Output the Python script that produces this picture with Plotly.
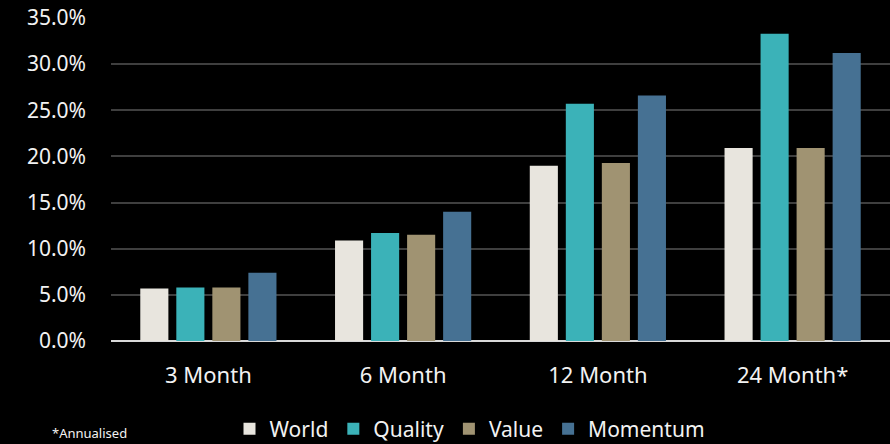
import plotly.graph_objects as go

categories = ["3 Month", "6 Month", "12 Month", "24 Month*"]
world = [5.7, 10.9, 19.0, 20.9]
quality = [5.8, 11.7, 25.7, 33.3]
value = [5.8, 11.5, 19.3, 20.9]
momentum = [7.4, 14.0, 26.6, 31.2]
series_names = ["World", "Quality", "Value", "Momentum"]
colors = ["#E8E5DE", "#3BB2B8", "#A09372", "#467193"]

W, H = 890, 444
L, R, T, B = 111, 0, 18, 103
fig = go.Figure()
for name, vals, c in zip(series_names, [world, quality, value, momentum], colors):
    fig.add_trace(go.Bar(x=categories, y=vals, name=name, marker=dict(color=c, line=dict(width=0))))

pw = W - L - R
ph = H - T - B
fig.update_layout(
    width=W, height=H,
    margin=dict(l=L, r=R, t=T, b=B, autoexpand=False),
    paper_bgcolor="black", plot_bgcolor="black",
    font=dict(family="Noto Sans", color="#F2F2F2", size=18),
    barmode="group", bargap=0.26, bargroupgap=0.22,
    showlegend=True,
    legend=dict(orientation="h", x=(470 - L) / pw, xanchor="center",
                y=-(429 - (H - B)) / ph, yanchor="middle",
                font=dict(size=21), itemwidth=30, traceorder="normal",
                bgcolor="rgba(0,0,0,0)"),
    xaxis=dict(showgrid=False, showline=False, ticks="", tickfont=dict(size=22),
               ticklabelstandoff=19, automargin=False),
    yaxis=dict(range=[0, 35], dtick=5, ticksuffix="%", tickformat=".1f",
               showgrid=True, gridcolor="#3F3F3F", gridwidth=2,
               zeroline=True, zerolinecolor="#D9D9D9", zerolinewidth=2,
               showline=False, ticks="", ticklabelstandoff=24, tickfont=dict(size=21),
               automargin=False),
    annotations=[dict(text="*Annualised", xref="paper", yref="paper",
                      x=(50 - L) / pw, xanchor="left",
                      y=-(433 - (H - B)) / ph, yanchor="middle",
                      showarrow=False, font=dict(size=13, color="#F2F2F2"))],
)
fig.write_html("out.html")
